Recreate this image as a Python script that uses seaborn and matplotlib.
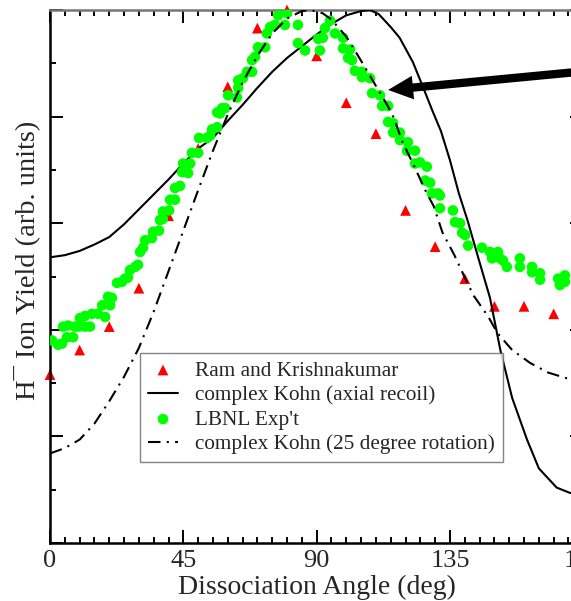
import numpy as np
import pandas as pd
import seaborn as sns
import matplotlib
matplotlib.use("Agg")
import matplotlib.pyplot as plt
from matplotlib.ticker import MultipleLocator

# Ram and Krishnakumar (red triangles)
ram_angle = [0, 10, 20, 30, 40, 50, 60, 70, 80, 90, 100, 110, 120, 130, 140, 150, 160, 170]
ram_yield = [1.58, 1.81, 2.03, 2.39, 3.07, 3.70, 4.28, 4.83, 5.00, 4.57, 4.13, 3.84, 3.12, 2.78,
             2.48, 2.22, 2.22, 2.15]

# complex Kohn (axial recoil)
axial_angle = [0, 5, 10, 15, 20, 25, 30, 35, 40, 45, 50, 55, 60, 65, 70, 75, 80, 85, 90, 95,
               100, 105, 108, 111, 115, 118, 122.5, 126, 129, 132, 135, 138, 141, 144.5, 148.5,
               152, 156, 161, 165, 171, 175.5, 180]
axial_yield = [2.68, 2.70, 2.74, 2.80, 2.87, 2.99, 3.13, 3.27, 3.41, 3.56, 3.70, 3.80, 3.96,
               4.11, 4.27, 4.42, 4.55, 4.66, 4.77, 4.87, 4.95, 4.99, 5.00, 4.96, 4.84, 4.74,
               4.51, 4.27, 4.06, 3.86, 3.59, 3.28, 3.02, 2.68, 2.30, 1.81, 1.36, 0.97, 0.70,
               0.52, 0.47, 0.45]

# complex Kohn (25 degree rotation)
rot_angle = [0, 5, 10, 15, 20, 25, 30, 35, 40, 45, 50, 55, 60, 65, 70, 75, 80, 85, 88, 92, 95,
             100, 104, 107, 111, 114, 116, 119, 122.5, 127, 129.5, 132.5, 136.5, 140, 143, 146,
             148, 151, 156, 162, 168, 175, 180]
rot_yield = [0.84, 0.89, 0.97, 1.12, 1.33, 1.56, 1.83, 2.17, 2.55, 2.93, 3.31, 3.68, 4.02, 4.32,
             4.57, 4.78, 4.92, 4.99, 5.00, 4.97, 4.91, 4.75, 4.57, 4.43, 4.24, 4.10, 3.99, 3.76,
             3.56, 3.29, 3.16, 2.91, 2.70, 2.49, 2.32, 2.20, 2.12, 1.97, 1.81, 1.69, 1.60, 1.54,
             1.52]

# LBNL Exp't (green circles)
lbnl_angle = [0.7, 2.7, 4.0, 4.4, 5.7, 6.1, 7.8, 8.4, 9.8, 10.1, 11.8, 11.8, 13.5, 14.2, 16.2,
              17.6, 18.6, 19.6, 20.3, 20.9, 22.6, 24.3, 25.3, 26.3, 27.0, 28.7, 29.7, 30.4,
              31.4, 32.1, 34.4, 34.8, 36.8, 37.1, 38.1, 38.1, 40.2, 40.5, 42.2, 42.2, 43.9,
              44.6, 46.6, 44.9, 47.3, 47.9, 50.0, 50.3, 53.0, 54.0, 54.7, 56.4, 56.4, 57.4,
              58.1, 59.1, 60.1, 63.1, 63.5, 63.5, 65.1, 66.5, 68.2, 68.2, 69.2, 70.2, 72.6,
              73.2, 74.3, 75.9, 77.0, 79.3, 80.0, 83.7, 83.7, 86.1, 91.1, 90.5, 92.1, 92.8,
              94.5, 96.2, 98.9, 98.9, 101.3, 100.6, 101.9, 102.9, 105.3, 105.3, 108.0, 108.7,
              111.4, 112.1, 114.1, 114.1, 115.8, 115.8, 118.1, 118.1, 120.8, 120.5, 123.2,
              123.2, 124.9, 127.2, 126.6, 128.3, 128.9, 131.0, 131.6, 131.6, 136.0, 136.7,
              138.4, 139.1, 140.1, 141.1, 145.8, 148.5, 151.2, 149.2, 151.9, 152.9, 154.2,
              158.6, 158.6, 162.7, 162.7, 165.4, 165.4, 171.5, 173.8, 172.1, 173.8]
lbnl_yield = [1.90, 1.86, 1.87, 2.03, 1.93, 2.04, 1.93, 2.03, 2.03, 2.11, 2.13, 2.03, 2.03, 2.15,
              2.15, 2.23, 2.12, 2.31, 2.23, 2.30, 2.44, 2.45, 2.48, 2.49, 2.56, 2.59, 2.61, 2.73,
              2.77, 2.84, 2.86, 2.92, 2.93, 3.03, 3.04, 3.11, 3.12, 3.22, 3.22, 3.33, 3.35, 3.48,
              3.47, 3.56, 3.56, 3.66, 3.66, 3.80, 3.80, 3.82, 3.88, 3.90, 4.04, 4.03, 4.08, 4.08,
              4.20, 4.18, 4.27, 4.34, 4.36, 4.42, 4.42, 4.53, 4.56, 4.65, 4.65, 4.78, 4.84, 4.86,
              4.95, 4.86, 4.97, 4.86, 4.69, 4.62, 4.62, 4.73, 4.74, 4.83, 4.90, 4.78, 4.74, 4.64,
              4.63, 4.55, 4.53, 4.43, 4.42, 4.37, 4.36, 4.22, 4.20, 4.10, 4.10, 3.95, 3.94, 3.85,
              3.85, 3.78, 3.76, 3.68, 3.68, 3.56, 3.57, 3.53, 3.40, 3.38, 3.28, 3.28, 3.26, 3.14,
              3.12, 3.01, 3.00, 2.91, 2.89, 2.79, 2.77, 2.73, 2.73, 2.67, 2.67, 2.65, 2.59, 2.67,
              2.59, 2.59, 2.54, 2.53, 2.47, 2.48, 2.51, 2.42, 2.45]

xticks = [0, 45, 90, 135, 180]

sns.set_style("ticks")
plt.rcParams["font.family"] = ["Liberation Serif", "DejaVu Serif"]
plt.rcParams["mathtext.fontset"] = "stix"

fig = plt.figure(figsize=(5.71, 6.01), dpi=100)
ax = fig.add_axes([50 / 571, 58 / 601, 533.3 / 571, 533 / 601])

sns.scatterplot(x=ram_angle, y=ram_yield, ax=ax, marker="^", s=60, color="#ff0000",
                edgecolor="none", label="Ram and Krishnakumar", clip_on=False, zorder=2)
sns.lineplot(x=axial_angle, y=axial_yield, ax=ax, color="black", lw=1.5,
             label="complex Kohn (axial recoil)", sort=False, estimator=None, zorder=3)
sns.scatterplot(x=lbnl_angle, y=lbnl_yield, ax=ax, marker="o", s=58, color="#00ff00",
                edgecolor="none", label="LBNL Exp't", zorder=4)
sns.lineplot(x=rot_angle, y=rot_yield, ax=ax, color="black", lw=1.5, linestyle=(0, (6, 3, 1, 3)),
             label="complex Kohn (25 degree rotation)", sort=False, estimator=None, zorder=5)

ax.set_xlim(0, 180)
ax.set_ylim(0, 5)
ax.set_xticks(xticks)
ax.set_xticklabels([str(t) for t in xticks], fontsize=19)
ax.xaxis.set_minor_locator(MultipleLocator(5))
ax.yaxis.set_major_locator(MultipleLocator(1))
ax.yaxis.set_minor_locator(MultipleLocator(0.5))
ax.set_yticklabels([])
ax.tick_params(which="both", direction="in", top=True, right=True, width=1.4, color="black")
ax.tick_params(which="major", length=9.5, pad=5)
ax.tick_params(which="minor", length=4.5)
for side in ["left", "bottom", "right"]:
    ax.spines[side].set_linewidth(1.8)
    ax.spines[side].set_color("black")
ax.spines["top"].set_linewidth(1.8)
ax.spines["top"].set_color("#777777")

ax.set_xlabel("Dissociation Angle (deg)", fontsize=20, labelpad=2)
ax.set_ylabel("H\u00af Ion Yield (arb. units)", fontsize=20.5)
ax.yaxis.set_label_coords(-0.017, 0.53)

ax.annotate("", xy=(114.1, 4.25), xytext=(186, 4.44),
            arrowprops=dict(facecolor="black", edgecolor="black", lw=0, width=6,
                            headwidth=17, headlength=18, shrink=0))

leg = ax.legend(loc="upper left", bbox_to_anchor=(0.169, 0.356), borderaxespad=0,
                fontsize=15.3, frameon=True, fancybox=False, scatterpoints=1,
                handlelength=1.45, handletextpad=0.8, labelspacing=0.22, borderpad=0.35)
leg.get_frame().set_edgecolor("#666666")
leg.get_frame().set_linewidth(1.0)

fig.savefig("out.png", dpi=100)
